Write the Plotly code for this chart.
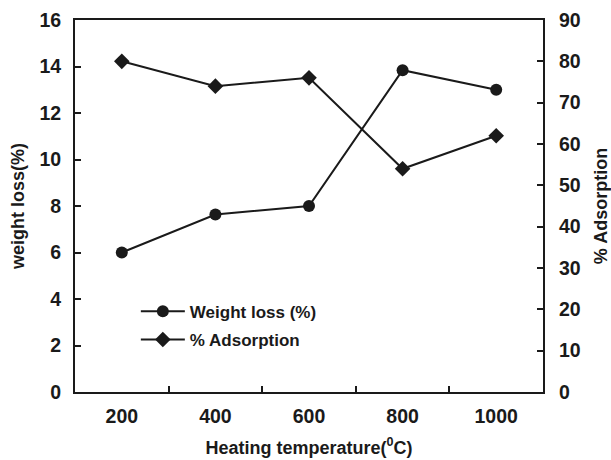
import plotly.graph_objects as go

temps = ["200", "400", "600", "800", "1000"]
weight_loss = [6.0, 7.63, 8.0, 13.84, 13.0]
adsorption = [80.0, 74.0, 76.0, 54.0, 62.0]

FONT = "Liberation Sans, Arial, sans-serif"
INK = "#1a1a1a"

fig = go.Figure()
fig.add_trace(go.Scatter(
    x=temps, y=weight_loss, name="Weight loss (%)", mode="lines+markers",
    line=dict(color=INK, width=2), marker=dict(symbol="circle", size=12, color=INK),
    legend="legend", showlegend=True,
))
fig.add_trace(go.Scatter(
    x=temps, y=adsorption, name="% Adsorption", mode="lines+markers",
    line=dict(color=INK, width=2), marker=dict(symbol="diamond", size=12, color=INK),
    yaxis="y2", legend="legend2", showlegend=True,
))

tickfont = dict(family=FONT, size=19.5, color=INK)
titlefont = dict(family=FONT, size=18, color=INK)
legfont = dict(family=FONT, size=17, color=INK)

fig.update_layout(
    width=611, height=460,
    showlegend=True,
    margin=dict(l=75, r=68, t=20, b=68),
    paper_bgcolor="white", plot_bgcolor="white",
    font=dict(family=FONT, color=INK, weight="bold"),
    xaxis=dict(
        type="category", range=[-0.5, 4.5], tickson="boundaries", automargin=False,
        ticks="inside", ticklen=6, tickwidth=1.5, tickcolor=INK,
        showline=True, linewidth=2, linecolor=INK, mirror=True,
        showgrid=False, zeroline=False,
        tickfont=tickfont, ticklabelstandoff=6,
        title=dict(text="Heating temperature(<sup>0</sup>C)", font=titlefont, standoff=15),
    ),
    yaxis=dict(
        range=[0, 16], dtick=2, automargin=False,
        ticks="inside", ticklen=6, tickwidth=1.5, tickcolor=INK,
        showline=True, linewidth=2, linecolor=INK,
        showgrid=False, zeroline=False,
        tickfont=tickfont, ticklabelstandoff=8,
        title=dict(text="weight loss(%)", font=titlefont, standoff=10),
    ),
    yaxis2=dict(
        range=[0, 90], dtick=10, overlaying="y", side="right", automargin=False,
        ticks="inside", ticklen=6, tickwidth=1.5, tickcolor=INK,
        showline=True, linewidth=2, linecolor=INK,
        showgrid=False, zeroline=False,
        tickfont=tickfont, ticklabelstandoff=10,
        title=dict(text="% Adsorption", font=titlefont, standoff=15),
    ),
    legend=dict(x=0.13, y=0.216, xanchor="left", yanchor="middle", itemwidth=44,
                font=legfont, bgcolor="rgba(0,0,0,0)", borderwidth=0),
    legend2=dict(x=0.13, y=0.14, xanchor="left", yanchor="middle", itemwidth=44,
                 font=legfont, bgcolor="rgba(0,0,0,0)", borderwidth=0),
)

fig.write_html("out.html", config={"displayModeBar": False},
               post_script="document.body.style.margin='0';")
